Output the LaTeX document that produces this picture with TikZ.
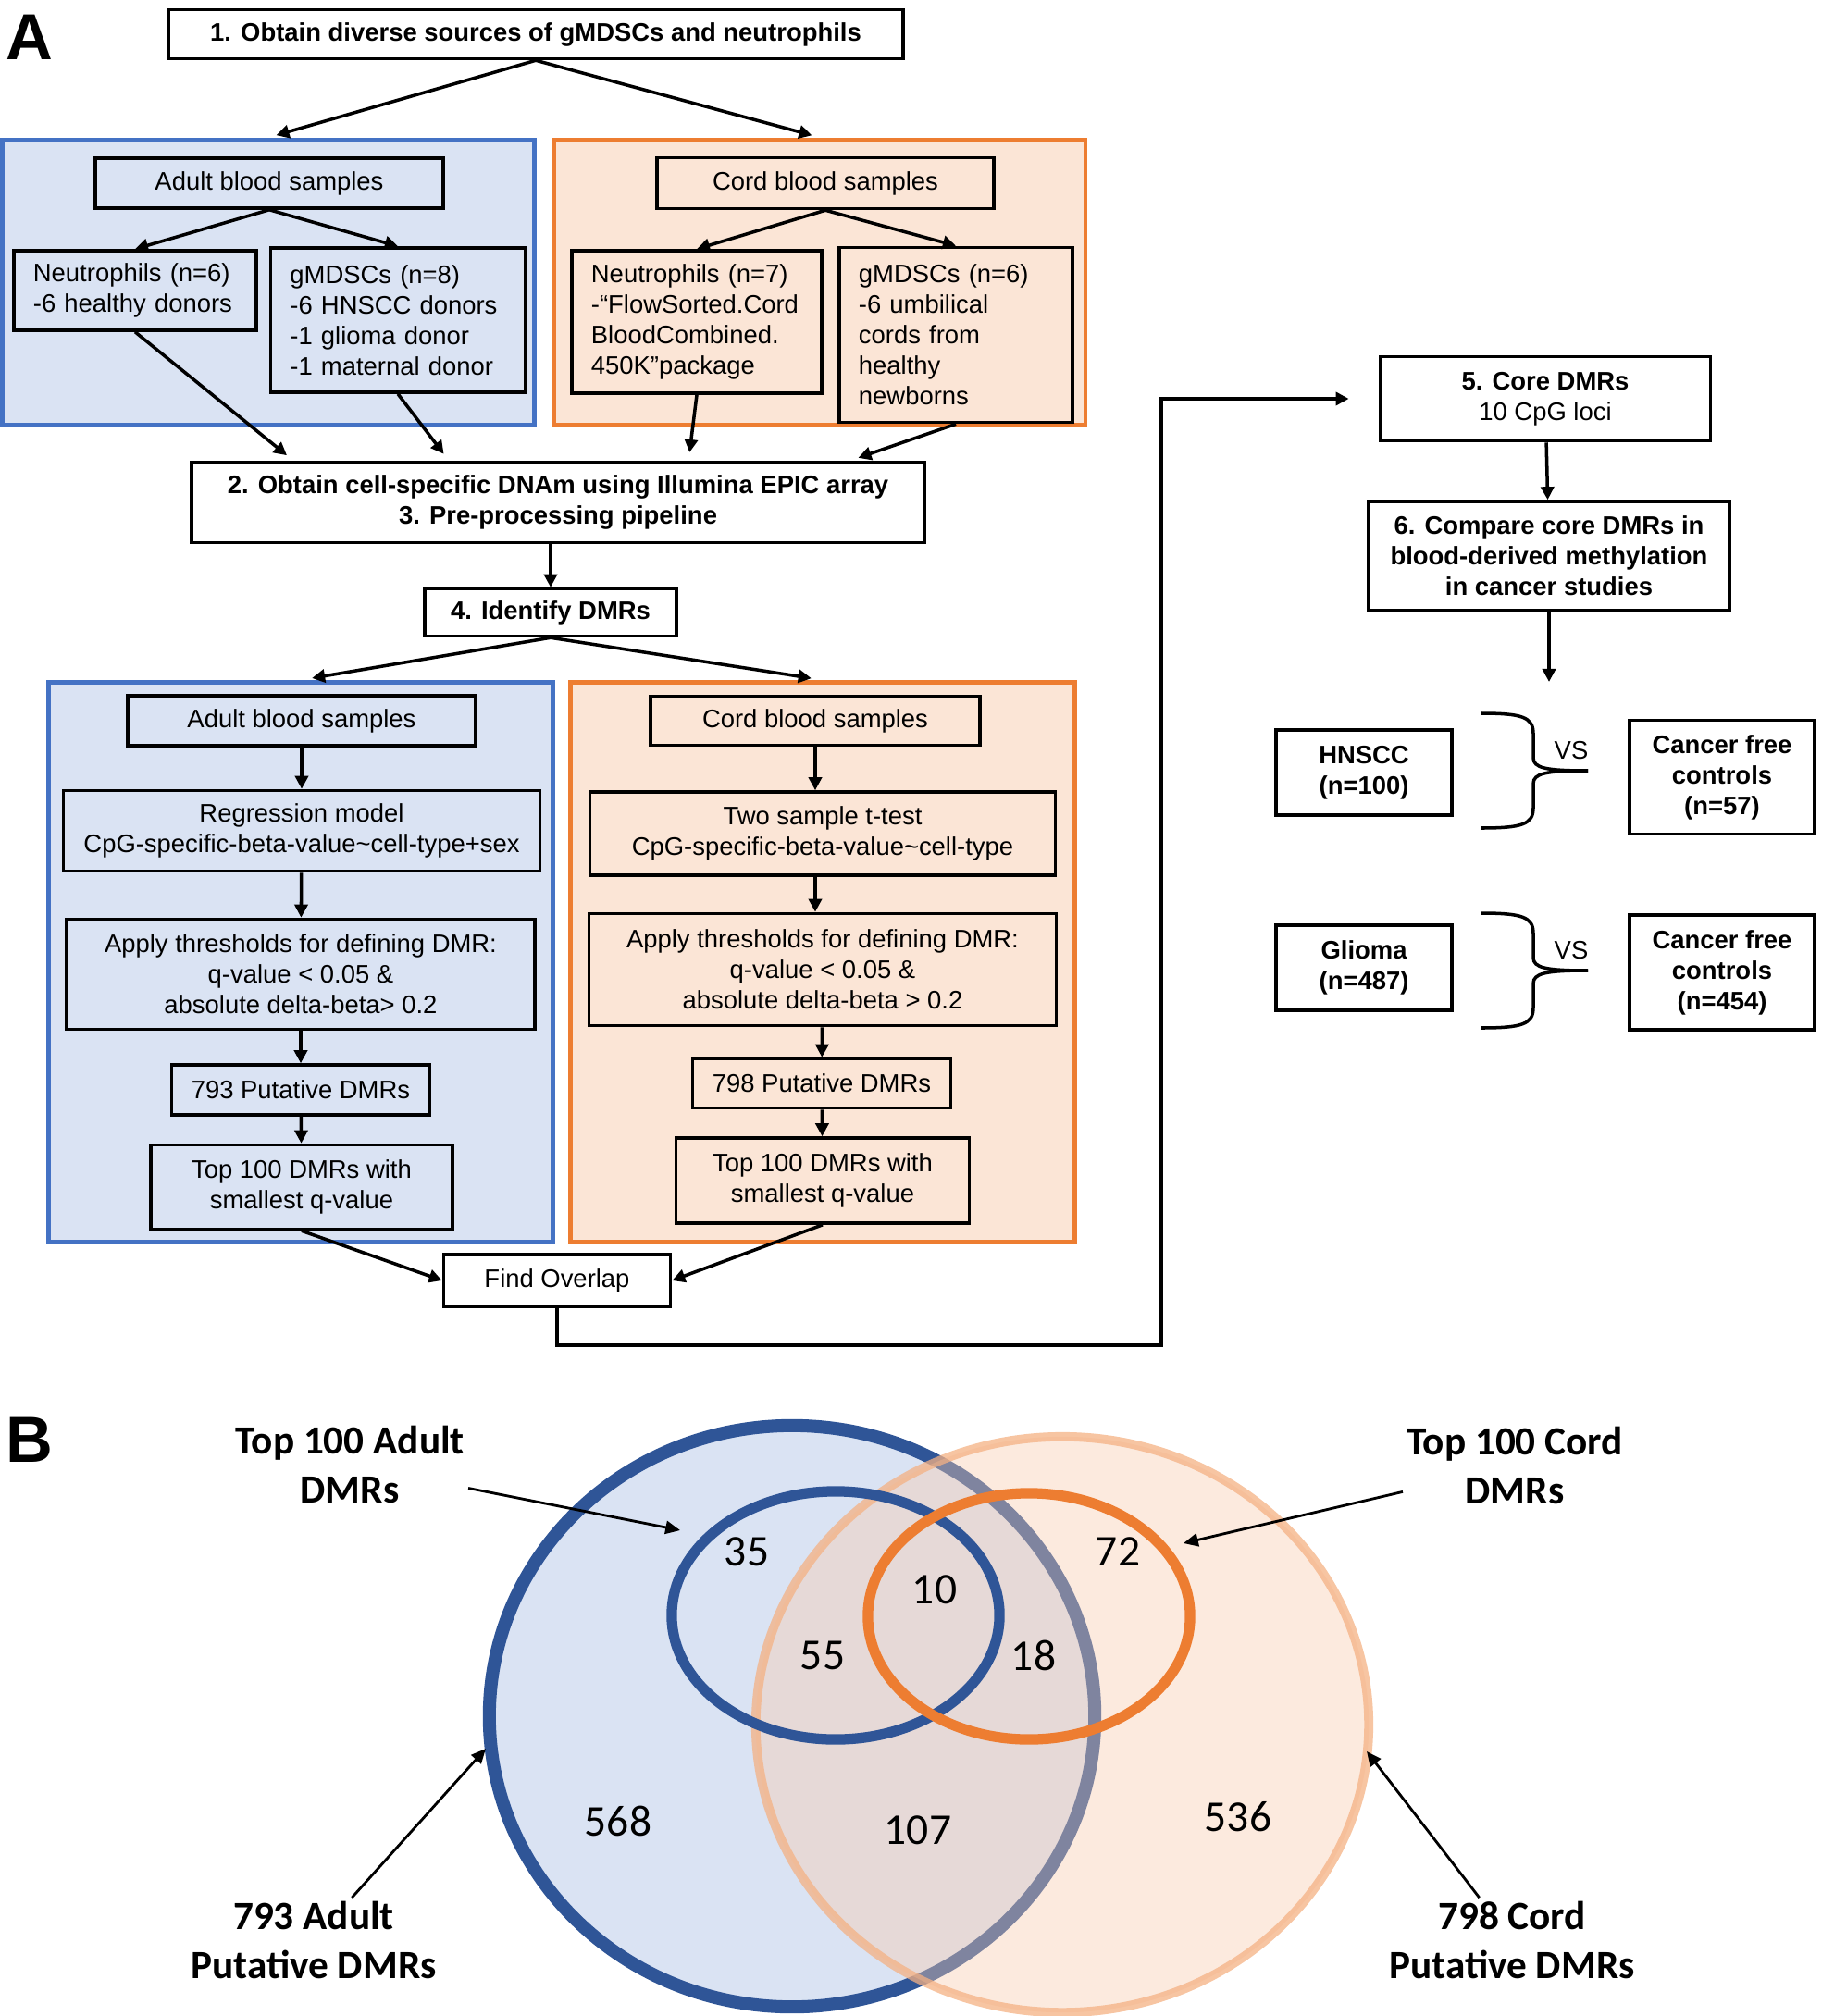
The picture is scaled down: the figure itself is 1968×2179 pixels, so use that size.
\documentclass[tikz,border=0pt]{standalone}
\usepackage{fontspec}
\setmainfont{Liberation Sans}
\newfontfamily\vennfont{Carlito}
\usetikzlibrary{arrows.meta,positioning}
\definecolor{adultline}{HTML}{4472C4}
\definecolor{adultfill}{HTML}{DAE3F3}
\definecolor{cordline}{HTML}{ED7D31}
\definecolor{cordfill}{HTML}{FBE5D6}
\definecolor{vennblue}{HTML}{2F5597}
\definecolor{vennpeach}{HTML}{F8CBAD}
\definecolor{vennring}{HTML}{F4B183}

\begin{document}
\begin{tikzpicture}[x=0.01cm,y=-0.01cm,
  font=\fontsize{7.8}{9.4}\selectfont,
  box/.style={draw,line width=1pt,inner sep=0pt,align=center},
  listbox/.style={draw,line width=1pt,inner xsep=0.21cm,inner ysep=0pt,align=left},
  boldtxt/.style={font=\fontsize{7.8}{9.4}\selectfont\bfseries},
  adultarea/.style={draw=adultline,fill=adultfill,line width=1.3pt},
  cordarea/.style={draw=cordline,fill=cordfill,line width=1.3pt},
  arr/.style={-{Triangle[length=4pt,width=4pt]},line width=1pt},
  varr/.style={-{Triangle[length=4.5pt,width=4pt]},line width=0.8pt},
  vsbrace/.style={line width=1pt},
  panel/.style={font=\fontsize{20}{20}\selectfont\bfseries,inner sep=0pt},
  vennlbl/.style={font=\vennfont\bfseries\fontsize{12.3}{15}\selectfont,align=center,inner sep=1pt},
  vennnum/.style={font=\vennfont\fontsize{13.5}{16}\selectfont}
]
\useasboundingbox (0,0) rectangle (1968,2179);

% A: sources
\node[panel] (labA) at (32,40) {A};
\node[box,boldtxt,minimum width=7.94cm,minimum height=0.53cm] (step1) at (579,37) {1. Obtain diverse sources of gMDSCs and neutrophils};
\node[adultarea,minimum width=5.75cm,minimum height=3.08cm] (adultSrc) at (290,305) {};
\node[cordarea,minimum width=5.74cm,minimum height=3.08cm] (cordSrc) at (886,305) {};

\node[box,minimum width=3.76cm,minimum height=0.54cm] (adult1) at (291,198) {Adult blood samples};
\node[listbox,minimum width=2.62cm,minimum height=0.86cm,text width=2.20cm] (neu6) at (146,314) {Neutrophils (n=6)\\-6 healthy donors};
\node[listbox,minimum width=2.75cm,minimum height=1.56cm,text width=2.33cm] (mdsc8) at (430,346) {gMDSCs (n=8)\\-6 HNSCC donors\\-1 glioma donor\\-1 maternal donor};
\node[box,minimum width=3.64cm,minimum height=0.55cm] (cord1) at (892,198) {Cord blood samples};
\node[listbox,minimum width=2.70cm,minimum height=1.54cm,text width=2.28cm] (neu7) at (753,348) {Neutrophils (n=7)\\-“FlowSorted.Cord\\BloodCombined.\\450K”package};
\node[listbox,minimum width=2.52cm,minimum height=1.89cm,text width=2.10cm] (mdsc6) at (1033,362) {gMDSCs (n=6)\\-6 umbilical\\cords from\\healthy\\newborns};

\node[box,boldtxt,minimum width=7.92cm,minimum height=0.87cm] (step2) at (603,543) {2. Obtain cell-specific DNAm using Illumina EPIC array\\3. Pre-processing pipeline};
\node[box,boldtxt,minimum width=2.72cm,minimum height=0.51cm] (step4) at (595,662) {4. Identify DMRs};

\path[arr] (step1.south) edge[shorten >=2.5pt] (adultSrc.north)
           (step1.south) edge[shorten >=2.5pt] (cordSrc.north)
           (adult1.south) edge (neu6.north)
           (adult1.south) edge (mdsc8.north)
           (cord1.south) edge (neu7.north)
           (cord1.south) edge (mdsc6.north);
\path[arr,shorten >=2.5pt] (neu6.south) edge ([xshift=-2.86cm]step2.north)
           (mdsc8.south) edge ([xshift=-1.18cm]step2.north)
           (neu7.south) edge ([xshift=1.41cm]step2.north)
           (mdsc6.south) edge ([xshift=3.16cm]step2.north);
\draw[arr] (step4.north |- step2.south) -- (step4.north);

% A: DMR calling
\node[adultarea,minimum width=5.45cm,minimum height=6.05cm] (adultRes) at (325,1040) {};
\node[cordarea,minimum width=5.45cm,minimum height=6.05cm] (cordRes) at (889,1040) {};
\path[arr,shorten >=3.5pt] (step4.south) edge (adultRes.north)
           (step4.south) edge (cordRes.north);

\node[box,minimum width=3.76cm,minimum height=0.54cm] (adult2) at (326,779) {Adult blood samples};
\node[box,minimum width=5.15cm,minimum height=0.87cm] (regr) at (326,898) {Regression model\\CpG-specific-beta-value\textasciitilde cell-type+sex};
\node[box,minimum width=5.06cm,minimum height=1.19cm] (thrA) at (325,1053) {Apply thresholds for defining DMR:\\q-value < 0.05 \&\\absolute delta-beta> 0.2};
\node[box,minimum width=2.79cm,minimum height=0.54cm] (put793) at (325,1178) {793 Putative DMRs};
\node[box,minimum width=3.26cm,minimum height=0.91cm] (topA) at (326,1283) {Top 100 DMRs with\\smallest q-value};

\node[box,minimum width=3.56cm,minimum height=0.53cm] (cord2) at (881,779) {Cord blood samples};
\node[box,minimum width=5.03cm,minimum height=0.90cm] (ttest) at (889,901) {Two sample t-test\\CpG-specific-beta-value\textasciitilde cell-type};
\node[box,minimum width=5.05cm,minimum height=1.21cm] (thrC) at (889,1048) {Apply thresholds for defining DMR:\\q-value < 0.05 \&\\absolute delta-beta > 0.2};
\node[box,minimum width=2.79cm,minimum height=0.53cm] (put798) at (888,1171) {798 Putative DMRs};
\node[box,minimum width=3.17cm,minimum height=0.92cm] (topC) at (889,1276) {Top 100 DMRs with\\smallest q-value};

\node[box,minimum width=2.45cm,minimum height=0.56cm] (overlap) at (602,1384) {Find Overlap};

\path[arr] (adult2) edge (regr)
           (regr) edge (thrA)
           (thrA) edge (put793)
           (put793) edge (topA);
\draw[arr] (cord2.south) -- (cord2.south |- ttest.north);
\draw[arr] (cord2.south |- ttest.south) -- (cord2.south |- thrC.north);
\path[arr] (thrC) edge (put798)
           (put798) edge (topC);
\draw[arr] (topA.south) -- (overlap.west);
\draw[arr] (topC.south) -- (overlap.east);

% A: validation
\node[box,minimum width=3.57cm,minimum height=0.91cm] (step5) at (1670,431) {\textbf{5. Core DMRs}\\10 CpG loci};
\node[box,boldtxt,minimum width=3.90cm,minimum height=1.18cm] (step6) at (1674,601) {6. Compare core DMRs in\\blood-derived methylation\\in cancer studies};
\coordinate (bendA) at (1255,1454);
\coordinate (cmpEnd) at (1674,737);
\draw[arr] (overlap.south) |- (bendA) |- ([xshift=-0.32cm]step5.west);
\draw[arr] (step5) -- (step6);
\draw[arr] (step6.south) -- (cmpEnd);

\node[box,boldtxt,minimum width=1.90cm,minimum height=0.92cm] (hnscc) at (1474,835) {HNSCC\\(n=100)};
\node[box,boldtxt,minimum width=2.00cm,minimum height=1.23cm] (free57) at (1861,840) {Cancer free\\controls\\(n=57)};
\node[box,boldtxt,minimum width=1.90cm,minimum height=0.92cm] (glioma) at (1474,1046) {Glioma\\(n=487)};
\node[box,boldtxt,minimum width=2.00cm,minimum height=1.24cm] (free454) at (1861,1051) {Cancer free\\controls\\(n=454)};

\foreach \yc [count=\i] in {833,1049} {
  \draw[vsbrace] (1600,{\yc-62}) .. controls (1645,{\yc-62}) and (1657,{\yc-58}) .. (1657,{\yc-40})
    -- (1657,{\yc-14}) .. controls (1657,{\yc-3}) and (1670,\yc) .. (1716,\yc);
  \draw[vsbrace] (1716,\yc) .. controls (1670,\yc) and (1657,{\yc+3}) .. (1657,{\yc+14})
    -- (1657,{\yc+40}) .. controls (1657,{\yc+58}) and (1645,{\yc+62}) .. (1600,{\yc+62});
  \node (vs\i) at (1698,{\yc-22}) {VS};
}

% B: Venn diagram
\node[panel] (labB) at (32,1556) {B};
\fill[adultfill] (856,1855) ellipse [x radius=3.27cm,y radius=3.14cm];
\draw[vennblue,line width=4pt] (856,1855) ellipse [x radius=3.27cm,y radius=3.14cm];
\draw[fill=vennpeach,fill opacity=0.4,draw=vennring,draw opacity=0.75,line width=2.8pt] (1148,1864) ellipse [x radius=3.31cm,y radius=3.11cm];
\draw[vennblue,line width=3.2pt] (903,1746) ellipse [x radius=1.77cm,y radius=1.34cm];
\draw[cordline,line width=3.2pt] (1112,1747) ellipse [x radius=1.74cm,y radius=1.33cm];

\node[vennnum] (n35) at (807,1677) {35};
\node[vennnum] (n10) at (1010,1718) {10};
\node[vennnum] (n72) at (1208,1677) {72};
\node[vennnum] (n55) at (889,1789) {55};
\node[vennnum] (n18) at (1117,1789) {18};
\node[vennnum] (n568) at (668,1968) {568};
\node[vennnum] (n107) at (992,1978) {107};
\node[vennnum] (n536) at (1338,1964) {536};

\node[vennlbl] (lblTopA) at (378,1583) {Top 100 Adult\\DMRs};
\node[vennlbl] (lblTopC) at (1637,1584) {Top 100 Cord\\DMRs};
\node[vennlbl] (lbl793) at (339,2097) {793 Adult\\Putative DMRs};
\node[vennlbl] (lbl798) at (1634,2097) {798 Cord\\Putative DMRs};
\coordinate (tipTopA) at (735,1654);
\coordinate (tipTopC) at (1279,1668);
\coordinate (tip793) at (525,1890);
\coordinate (tip798) at (1477,1893);
\draw[varr] (lblTopA) -- (tipTopA);
\draw[varr] (lblTopC) -- (tipTopC);
\draw[varr] (lbl793) -- (tip793);
\draw[varr] (lbl798) -- (tip798);
\end{tikzpicture}
\end{document}
